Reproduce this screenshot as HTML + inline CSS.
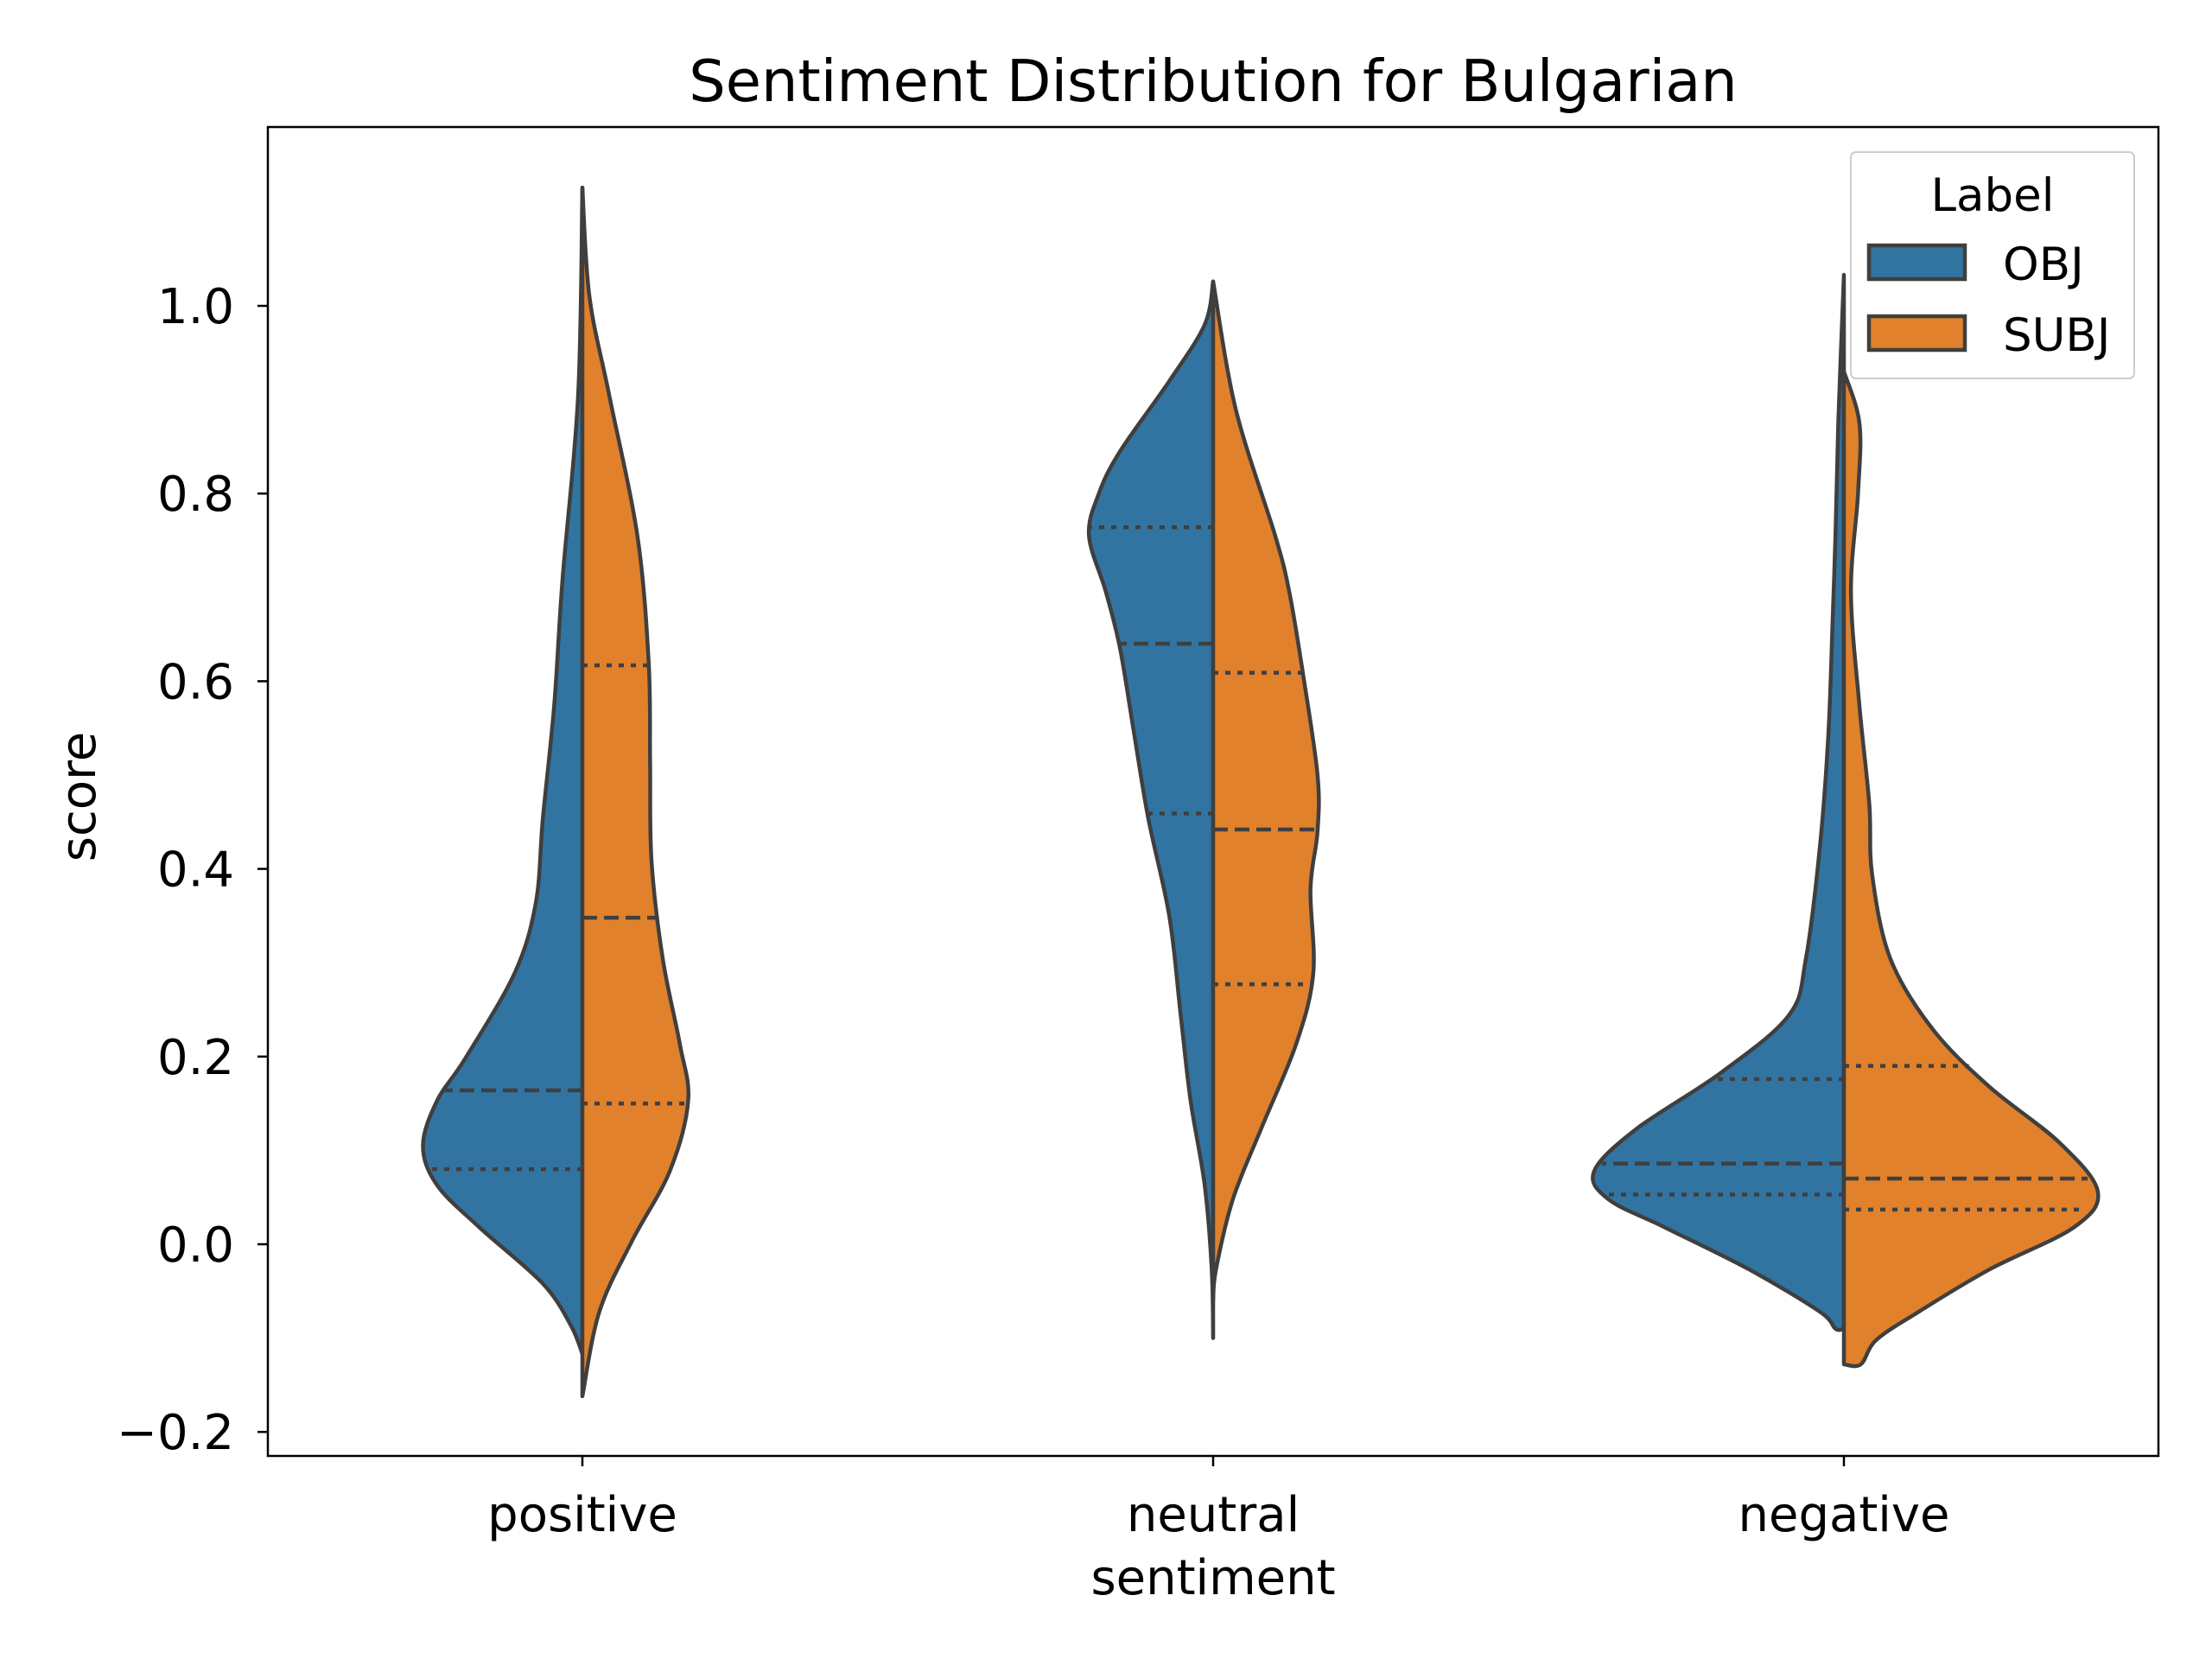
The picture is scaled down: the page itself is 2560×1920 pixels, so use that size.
<!DOCTYPE html>
<html><head><meta charset="utf-8"><style>
body{margin:0;background:#fff}
svg{display:block;font-family:"DejaVu Sans","Liberation Sans",sans-serif}
</style></head><body>
<svg id="chart" width="2560" height="1920" viewBox="0 0 2560 1920">
<rect width="2560" height="1920" fill="#fff"/>
<g id="plot"></g>
</svg>
<script>
const categories = ["positive","neutral","negative"];
const yTicks = [-0.2,0,0.2,0.4,0.6,0.8,1.0];
const yTickLabels = ["\u22120.2","0.0","0.2","0.4","0.6","0.8","1.0"];
// violin profiles: [score, density-width]
const posObj = [[1.126,0],[0.905,3],[0.71,14],[0.574,20],[0.454,28],[0.364,33],[0.289,48],[0.198,83],[0.153,103],[0.105,113],[0.063,103],[0.018,73],[-0.042,28],[-0.087,8],[-0.117,0]];
const posSubj = [[1.126,0],[1.01,5],[0.905,19],[0.755,39],[0.62,47],[0.514,48],[0.409,49],[0.304,57],[0.214,69],[0.153,75],[0.078,62],[0.003,35],[-0.072,12],[-0.162,0]];
const neuObj = [[1.026,0],[0.98,6],[0.92,31],[0.845,66],[0.8,81],[0.755,88],[0.695,76],[0.635,66],[0.544,56],[0.454,46],[0.349,31],[0.244,23],[0.153,16],[0.063,6],[-0.027,1],[-0.1,0]];
const neuSubj = [[1.026,0],[0.89,16],[0.755,44],[0.695,54],[0.605,64],[0.5,74],[0.44,74],[0.379,69],[0.289,71],[0.214,59],[0.123,34],[0.048,14],[-0.027,2],[-0.06,0]];
const negObj = [[1.033,0],[0.875,4],[0.755,6],[0.665,8],[0.544,11],[0.424,17],[0.304,27],[0.244,39],[0.183,87],[0.123,147],[0.078,177],[0.048,167],[0.018,127],[-0.027,67],[-0.072,17],[-0.09,6],[-0.09,0]];
const negSubj = [[0.93,0],[0.875,11],[0.8,10],[0.695,5],[0.574,11],[0.469,18],[0.394,20],[0.304,33],[0.229,63],[0.168,103],[0.108,153],[0.056,180],[0.018,163],[-0.027,103],[-0.072,53],[-0.102,23],[-0.128,12],[-0.128,0]];
const objQuart = [[0.08,0.164,null],[0.459,0.64,0.764],[0.053,0.086,0.176]];
const subjQuart = [[0.15,0.348,0.617],[0.277,0.442,0.609],[0.037,0.07,0.19]];

const L=310,R=2498,T=147,B=1685;
const y=v=>1440-v*1086;
const cx=i=>674+i*730;
const wScale=1.6327;
const NS="http://www.w3.org/2000/svg";
const g=document.getElementById('plot');
function mk(tag,attrs,parent){const e=document.createElementNS(NS,tag);for(const k in attrs)e.setAttribute(k,attrs[k]);(parent||g).appendChild(e);return e;}
function smoothPath(pts){let d=`M${pts[0][0]},${pts[0][1]}`;for(let i=0;i<pts.length-1;i++){const p0=pts[i-1]||pts[i],p1=pts[i],p2=pts[i+1],p3=pts[i+2]||p2;const c1=[p1[0]+(p2[0]-p0[0])/6,p1[1]+(p2[1]-p0[1])/6],c2=[p2[0]-(p3[0]-p1[0])/6,p2[1]-(p3[1]-p1[1])/6];d+=` C${c1[0]},${c1[1]} ${c2[0]},${c2[1]} ${p2[0]},${p2[1]}`;}return d;}
const profiles=[[posObj,posSubj],[neuObj,neuSubj],[negObj,negSubj]];
const colors=["#3274a1","#e1812c"];
function widthAt(prof,v){for(let i=0;i<prof.length-1;i++){const a=prof[i],b=prof[i+1];if(v<=a[0]&&v>=b[0]){const t=a[0]===b[0]?0:(a[0]-v)/(a[0]-b[0]);return a[1]+(b[1]-a[1])*t;}}return 0;}
profiles.forEach((pair,i)=>{
  pair.forEach((prof,s)=>{
    const sign=s===0?-1:1;
    const pts=prof.map(p=>[cx(i)+sign*p[1]*wScale,y(p[0])]);
    const d=smoothPath(pts)+` L${cx(i)},${y(prof[prof.length-1][0])} L${cx(i)},${y(prof[0][0])} Z`;
    const p=mk('path',{d,fill:colors[s],stroke:'#3f3f3f','stroke-width':4.5,'stroke-linejoin':'round'});
    
    
    const q=s===0?objQuart[i]:subjQuart[i];
    q.forEach((v,k)=>{if(v===null)return;
      const w=widthAt(prof,v)*wScale;
      const ln=mk('line',{x1:cx(i),x2:cx(i)+sign*w,y1:y(v),y2:y(v),stroke:'#3f3f3f','stroke-width':4.5,'stroke-dasharray':k===1?'17,8':'6,8'});
      
      
    });
  });
});
const fr=mk('rect',{x:L,y:T,width:R-L,height:B-T,fill:'none',stroke:'#000','stroke-width':2.5});

yTicks.forEach((v,k)=>{
  const t=mk('line',{x1:L-12,x2:L,y1:y(v),y2:y(v),stroke:'#000','stroke-width':2.5});
  
  const tx=mk('text',{x:271,y:y(v)+20,'text-anchor':'end','font-size':56,fill:'#000'});tx.textContent=yTickLabels[k];
  
});
categories.forEach((c,i)=>{
  const t=mk('line',{x1:cx(i),x2:cx(i),y1:B,y2:B+12,stroke:'#000','stroke-width':2.5});
  
  const tx=mk('text',{x:cx(i),y:1772,'text-anchor':'middle','font-size':56,fill:'#000'});tx.textContent=c;
  
});
let e;
e=mk('text',{x:1404,y:117,'text-anchor':'middle','font-size':67,fill:'#000'});e.textContent='Sentiment Distribution for Bulgarian';

e=mk('text',{x:1404,y:1845,'text-anchor':'middle','font-size':56,fill:'#000'});e.textContent='sentiment';

e=mk('text',{x:0,y:0,'text-anchor':'middle','font-size':56,fill:'#000',transform:'translate(110,922) rotate(-90)'});e.textContent='score';

const lg=mk('g',{});
mk('rect',{x:2142,y:176,width:328,height:262,rx:6,fill:'#fff','fill-opacity':0.8,stroke:'#ccc','stroke-width':2},lg);
e=mk('text',{x:2306,y:244,'text-anchor':'middle','font-size':53,fill:'#000'},lg);e.textContent='Label';

["OBJ","SUBJ"].forEach((n,k)=>{
  const r=mk('rect',{x:2163,y:284+k*82,width:111,height:39,fill:colors[k],stroke:'#3f3f3f','stroke-width':4.5},lg);
  
  const t=mk('text',{x:2318,y:324+k*82,'font-size':53,fill:'#000'},lg);t.textContent=n;
  
});
</script>
</body></html>
